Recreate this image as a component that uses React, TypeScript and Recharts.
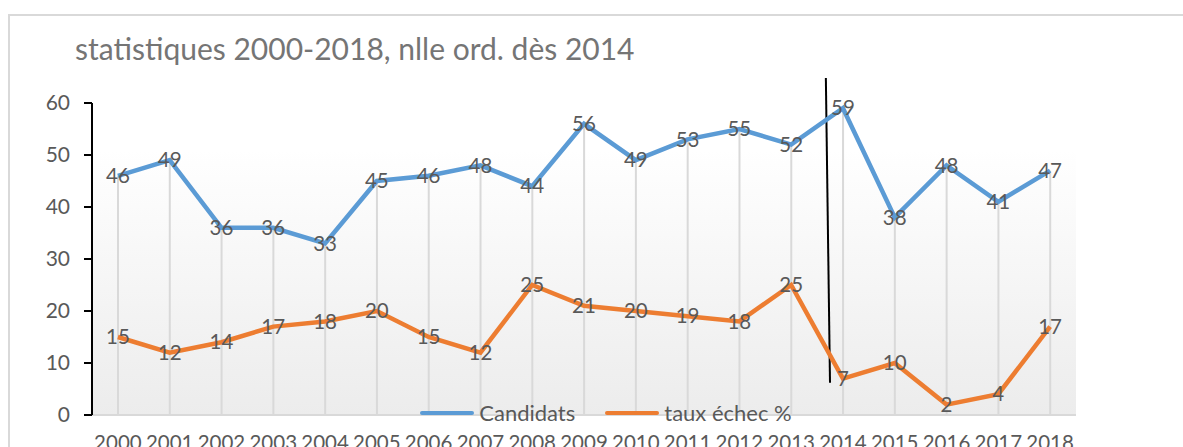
import { ComposedChart, Line, Bar, XAxis, YAxis, CartesianGrid, LabelList, ReferenceLine } from "recharts"

const years = [2000, 2001, 2002, 2003, 2004, 2005, 2006, 2007, 2008, 2009, 2010, 2011, 2012, 2013, 2014, 2015, 2016, 2017, 2018]
const candidats = [46, 49, 36, 36, 33, 45, 46, 48, 44, 56, 49, 53, 55, 52, 59, 38, 48, 41, 47]
const tauxEchec = [15, 12, 14, 17, 18, 20, 15, 12, 25, 21, 20, 19, 18, 25, 7, 10, 2, 4, 17]
const yTicks = [0, 10, 20, 30, 40, 50, 60]
// hand-drawn separator line for the new regulation (2014)
const separator = [
  { x: 2013.67, y: 64.8 },
  { x: 2013.75, y: 6.2 },
]

const data = years.map((year, i) => ({ year, candidats: candidats[i], taux: tauxEchec[i] }))

const FONT = "Lato, 'Open Sans', sans-serif"
const W = 1200
const H = 460

if (typeof document !== "undefined") {
  document.documentElement.style.overflow = "hidden"
  document.body.style.overflow = "hidden"
}

export default function App() {
  return (
    <div style={{ position: "fixed", left: 0, top: 0, width: 1183, height: 447, overflow: "hidden", background: "#fff" }}>
      <div
        style={{
          position: "absolute",
          left: 8,
          top: 14,
          width: W,
          height: H,
          borderTop: "2px solid #d9d9d9",
          borderLeft: "2px solid #d9d9d9",
          boxSizing: "border-box",
          background: "#fff",
          fontFamily: FONT,
        }}
      >
        <div
          style={{
            position: "absolute",
            left: 65,
            top: 14,
            fontSize: 30,
            color: "#757575",
            whiteSpace: "nowrap",
          }}
        >
          statistiques 2000-2018, nlle ord. dès 2014
        </div>

        <ComposedChart
          width={W - 2}
          height={H - 2}
          data={data}
          margin={{ top: 87, right: 132, left: 19, bottom: 29 }}
          style={{ fontFamily: FONT }}
        >
          <defs>
            <linearGradient id="plotBg" x1="0" y1="0" x2="0" y2="1">
              <stop offset="0%" stopColor="#ffffff" />
              <stop offset="15%" stopColor="#ffffff" />
              <stop offset="100%" stopColor="#ececec" />
            </linearGradient>
          </defs>
          <CartesianGrid horizontal={false} vertical={false} fill="url(#plotBg)" />
          <XAxis
            dataKey="year"
            type="number"
            domain={[1999.5, 2018.5]}
            ticks={years}
            interval={0}
            tickLine={false}
            tickSize={0}
            tickMargin={20}
            axisLine={{ stroke: "#d9d9d9", strokeWidth: 2 }}
            tick={{ fill: "#595959", fontSize: 20.5 }}
            height={30}
          />
          <YAxis
            domain={[0, 60]}
            ticks={yTicks}
            width={63}
            axisLine={{ stroke: "#000", strokeWidth: 2 }}
            tickLine={{ stroke: "#000", strokeWidth: 2 }}
            tickSize={8}
            tickMargin={14}
            tick={{ fill: "#595959", fontSize: 21 }}
          />
          <Bar dataKey="candidats" barSize={2} fill="#d9d9d9" isAnimationActive={false} />
          <ReferenceLine segment={separator} stroke="#000" strokeWidth={2} ifOverflow="visible" />
          <Line
            dataKey="candidats"
            stroke="#5b9bd5"
            strokeWidth={4.5}
            dot={false}
            isAnimationActive={false}
          >
            <LabelList dataKey="candidats" position="center" fill="#595959" fontSize={20.5} />
          </Line>
          <Line
            dataKey="taux"
            stroke="#ed7d31"
            strokeWidth={4.5}
            dot={false}
            isAnimationActive={false}
          >
            <LabelList dataKey="taux" position="center" fill="#595959" fontSize={20.5} />
          </Line>
        </ComposedChart>

        <div
          style={{
            position: "absolute",
            left: 0,
            top: 383,
            width: 1192,
            display: "flex",
            justifyContent: "center",
            alignItems: "center",
            fontSize: 22,
            color: "#595959",
            gap: 30,
          }}
        >
          <span style={{ display: "flex", alignItems: "center" }}>
            <span style={{ display: "inline-block", width: 54, height: 4, background: "#5b9bd5", borderRadius: 2, marginRight: 5 }} />
            Candidats
          </span>
          <span style={{ display: "flex", alignItems: "center" }}>
            <span style={{ display: "inline-block", width: 54, height: 4, background: "#ed7d31", borderRadius: 2, marginRight: 5 }} />
            taux échec %
          </span>
        </div>
      </div>
    </div>
  )
}
